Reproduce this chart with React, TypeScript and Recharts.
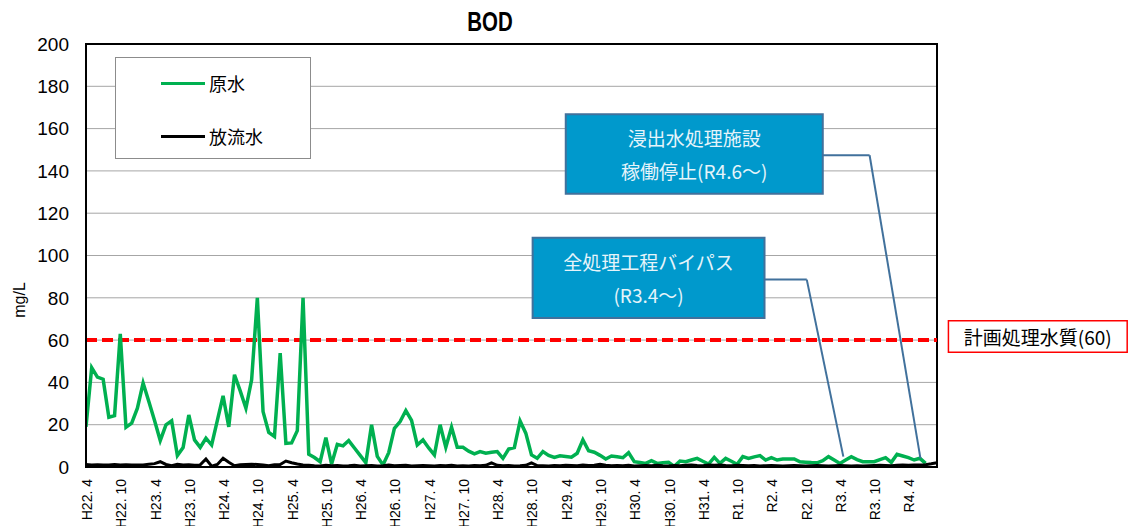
import React from 'react';
import {
  LineChart,
  Line,
  XAxis,
  YAxis,
  CartesianGrid,
  ReferenceLine,
  ReferenceArea,
  Legend,
} from 'recharts';

// ---- data (monthly, H22.4 = index 0 ... R4.9 = index 149) ----
const tickLabels = [
  'H22. 4', 'H22. 10', 'H23. 4', 'H23. 10', 'H24. 4', 'H24. 10', 'H25. 4', 'H25. 10',
  'H26. 4', 'H26. 10', 'H27. 4', 'H27. 10', 'H28. 4', 'H28. 10', 'H29. 4', 'H29. 10',
  'H30. 4', 'H30. 10', 'H31. 4', 'R1. 10', 'R2. 4', 'R2. 10', 'R3. 4', 'R3. 10', 'R4. 4',
];
const tickPositions = [
  0, 6, 12, 18, 24, 30, 36, 42, 48, 54, 60, 66, 72, 78, 84, 90, 96, 102, 108, 114, 120, 126, 132, 138, 144,
];
const monthCount = 150;

// 原水 BOD (mg/L)
const rawWater = [
  19, 47, 42.5, 41.5, 23.5, 24.3, 63, 18.8, 20.7, 27.8,
  39.7, 31, 22, 12.5, 19.9, 21.8, 5.4, 9.2, 24.6, 12.8,
  9.3, 13.6, 10.4, 22, 33.6, 19, 43.6, 36, 27.8, 41.2,
  80, 26.2, 16.3, 14.4, 53.9, 11.2, 11.4, 17.2, 80, 6,
  4.5, 2.5, 13.9, 1.4, 10.7, 10, 12.5, 9, 5.5, 2,
  20, 5, 1, 6.8, 18.3, 21.5, 26.7, 22, 10.4, 12.8,
  9, 5.7, 20, 9.3, 18.8, 9.3, 9.3, 7.5, 6.2, 7.3,
  6.5, 7, 7.3, 4.1, 8.5, 9.2, 21.8, 16, 5.7, 4.1,
  7.3, 5.5, 4.5, 5.3, 5, 4.6, 6.5, 12.8, 7.7, 7,
  5.5, 3.8, 5.2, 4.8, 4.4, 6.8, 2.5, 2.1, 1.7, 3,
  1.7, 2, 2.2, 0.3, 2.8, 2.5, 3.3, 4.1, 2.7, 1.4,
  4.6, 1.7, 4.1, 2.7, 1.3, 4.9, 4.1, 4.8, 5.4, 3.3,
  4.4, 3.3, 3.8, 3.8, 3.8, 2.5, 2.3, 2.1, 2, 3,
  4.9, 3.3, 1.7, 3.3, 4.9, 3.5, 2.5, 2.5, 2.5, 3.5,
  4.4, 2.2, 6, 5.2, 4.4, 3.3, 4.1, 1.7,
];

// 放流水 BOD (mg/L)
const effluent = [
  1.2, 1.0, 1.1, 0.9, 1.0, 1.2, 1.0, 1.1, 0.9, 1.0,
  1.0, 1.3, 1.6, 2.5, 1.2, 0.6, 1.3, 1.0, 1.1, 0.8,
  1.0, 3.8, 0.4, 1.2, 4.1, 2.2, 0.6, 1.1, 1.2, 1.3,
  1.2, 1.0, 0.6, 1.1, 1.2, 2.8, 2.0, 1.4, 1.0, 0.8,
  0.6, 0.5, 0.8, 0.6, 0.7, 0.5, 0.6, 0.8, 0.5, 0.6,
  0.7, 0.5, 0.6, 0.9, 0.6, 0.7, 0.8, 0.5, 0.6, 0.7,
  0.6, 0.5, 0.7, 0.6, 0.8, 0.5, 0.6, 0.5, 0.7, 0.6,
  0.8, 2.0, 0.8, 0.6, 0.7, 0.5, 0.6, 0.8, 1.9, 0.7,
  0.6, 0.5, 0.7, 0.6, 0.8, 0.7, 0.6, 0.9, 0.7, 0.8,
  1.3, 0.8, 0.6, 0.7, 0.6, 0.8, 0.5, 0.6, 0.7, 0.6,
  0.8, 0.6, 0.5, 0.7, 0.6, 0.8, 0.9, 0.7, 0.6, 1.0,
  0.8, 0.9, 0.7, 0.6, 0.8, 0.7, 0.6, 0.7, 0.5, 0.6,
  0.7, 0.6, 0.5, 0.6, 0.7, 0.6, 0.5, 0.6, 0.7, 0.6,
  0.5, 0.6, 0.7, 0.6, 0.5, 0.6, 0.5, 0.6, 0.7, 0.8,
  0.7, 0.6, 0.8, 0.9, 0.8, 1.0, 0.9, 1.1, 1.5, 2.0,
];

const yTicks = [0, 20, 40, 60, 80, 100, 120, 140, 160, 180, 200];
const planQuality = 60;

const seriesNames = { raw: '原水', eff: '放流水' };

const data = Array.from({ length: monthCount }, (_, i) => ({
  m: i,
  raw: i < rawWater.length ? rawWater[i] : null,
  eff: effluent[i],
}));

const CJK = "'Noto Sans CJK JP', 'Noto Sans', sans-serif";
const LATIN = "'Liberation Sans', Arial, sans-serif";

const XTick = (props: any) => {
  const { x, y, payload } = props;
  const idx = tickPositions.indexOf(payload.value);
  const label = idx >= 0 ? tickLabels[idx] : '';
  return (
    <text
      transform={`translate(${x + 1},${y}) rotate(-90)`}
      textAnchor="end"
      dominantBaseline="central"
      fontSize={14}
      fontFamily={LATIN}
      fill="#000"
    >
      {label}
    </text>
  );
};

const boxText = (lines: string[], color: string, size: number, gap: number) => (props: any) => {
  const vb = props && props.viewBox;
  if (!vb || vb.width === undefined) return null;
  const cx = vb.x + vb.width / 2;
  const cy = vb.y + vb.height / 2;
  return (
    <g>
      {lines.map((t, k) => (
        <text
          key={k}
          x={cx}
          y={cy + (k - (lines.length - 1) / 2) * gap}
          textAnchor="middle"
          dominantBaseline="central"
          fill={color}
          fontSize={size}
          fontFamily={CJK}
        >
          {t}
        </text>
      ))}
    </g>
  );
};

const LegendBox = (props: any) => {
  const payload = props.payload || [];
  return (
    <div
      style={{
        width: 196,
        height: 102,
        boxSizing: 'border-box',
        border: '1px solid #8c8c8c',
        background: '#fff',
        position: 'relative',
      }}
    >
      {payload.map((p: any, k: number) => (
        <div
          key={k}
          style={{
            position: 'absolute',
            left: 45,
            top: k === 0 ? 13 : 66,
            height: 24,
            display: 'flex',
            alignItems: 'center',
          }}
        >
          <div style={{ width: 44, height: 3, background: p.color }} />
          <span
            style={{
              marginLeft: 4,
              fontFamily: CJK,
              fontSize: 18,
              color: '#000',
              lineHeight: '24px',
            }}
          >
            {p.value}
          </span>
        </div>
      ))}
    </div>
  );
};

export default function App() {
  return (
    <div style={{ position: 'absolute', left: 0, top: 0, width: 1129, height: 526, background: '#fff' }}>
      <div
        style={{
          position: 'absolute',
          left: 390,
          top: 6,
          width: 200,
          textAlign: 'center',
          fontFamily: LATIN,
          fontWeight: 'bold',
          fontSize: 28,
          lineHeight: '32px',
          color: '#000',
          transform: 'scaleX(0.73)',
          zIndex: 2,
        }}
      >
        BOD
      </div>
      <div
        style={{
          position: 'absolute',
          left: 20,
          top: 300,
          transform: 'translate(-50%, -50%) rotate(-90deg)',
          fontFamily: LATIN,
          fontSize: 16,
          color: '#000',
          whiteSpace: 'nowrap',
          zIndex: 2,
        }}
      >
        mg/L
      </div>
      <LineChart
        width={1129}
        height={526}
        data={data}
        margin={{ top: 44, right: 192, bottom: 0, left: 0 }}
      >
        <CartesianGrid vertical={false} stroke="#a6a6a6" strokeWidth={1} />
        <XAxis
          dataKey="m"
          type="number"
          domain={[0, monthCount - 1]}
          allowDataOverflow
          ticks={tickPositions}
          interval={0}
          height={59}
          tickLine={false}
          tickSize={8}
          tickMargin={4}
          axisLine={{ stroke: '#000', strokeWidth: 2 }}
          tick={<XTick />}
        />
        <YAxis
          type="number"
          domain={[0, 200]}
          allowDataOverflow
          ticks={yTicks}
          interval={0}
          width={86}
          tickLine={false}
          tickSize={6}
          tickMargin={11}
          axisLine={{ stroke: '#000', strokeWidth: 2 }}
          tick={{ fill: '#000', fontSize: 19, fontFamily: LATIN }}
        />
        <ReferenceArea
          x1={0}
          x2={monthCount - 1}
          y1={0}
          y2={200}
          fill="none"
          fillOpacity={0}
          stroke="#000"
          strokeWidth={2}
        />
        <ReferenceLine
          y={planQuality}
          stroke="#ff0000"
          strokeWidth={4}
          strokeDasharray="11 5"
        />
        <Line
          type="linear"
          dataKey="raw"
          name={seriesNames.raw}
          stroke="#00b050"
          strokeWidth={3.5}
          dot={false}
          isAnimationActive={false}
        />
        <Line
          type="linear"
          dataKey="eff"
          name={seriesNames.eff}
          stroke="#000"
          strokeWidth={3}
          dot={false}
          isAnimationActive={false}
        />
        {/* leader lines */}
        <ReferenceLine
          segment={[{ x: 118.8, y: 88.6 }, { x: 126.2, y: 88.6 }]}
          stroke="#41719c"
          strokeWidth={2}
          ifOverflow="visible"
        />
        <ReferenceLine
          segment={[{ x: 126.2, y: 88.6 }, { x: 132.6, y: 4.9 }]}
          stroke="#41719c"
          strokeWidth={2}
          ifOverflow="visible"
        />
        <ReferenceLine
          segment={[{ x: 129.0, y: 147.4 }, { x: 137.2, y: 147.4 }]}
          stroke="#41719c"
          strokeWidth={2}
          ifOverflow="visible"
        />
        <ReferenceLine
          segment={[{ x: 137.2, y: 147.4 }, { x: 146.1, y: 4.1 }]}
          stroke="#41719c"
          strokeWidth={2}
          ifOverflow="visible"
        />
        {/* callout boxes */}
        <ReferenceArea
          x1={84.0}
          x2={129.0}
          y1={129.2}
          y2={166.8}
          fill="#0099cc"
          fillOpacity={1}
          stroke="#41719c"
          strokeWidth={2}
          ifOverflow="visible"
          label={boxText(['浸出水処理施設', '稼働停止(R4.6～)'], '#e6f4fa', 19, 33.4)}
        />
        <ReferenceArea
          x1={78.2}
          x2={118.8}
          y1={70.5}
          y2={108.4}
          fill="#0099cc"
          fillOpacity={1}
          stroke="#41719c"
          strokeWidth={2}
          ifOverflow="visible"
          label={boxText(['全処理工程バイパス', '(R3.4～)'], '#e6f4fa', 19, 32.6)}
        />
        <ReferenceArea
          x1={151.0}
          x2={182.3}
          y1={54.2}
          y2={69.2}
          fill="#fff"
          fillOpacity={1}
          stroke="#ff0000"
          strokeWidth={1.5}
          ifOverflow="visible"
          label={boxText(['計画処理水質(60)'], '#000', 19, 0)}
        />
        <Legend
          layout="vertical"
          align="center"
          verticalAlign="middle"
          wrapperStyle={{ left: 115, top: 57, width: 196, height: 102 }}
          content={<LegendBox />}
        />
      </LineChart>
    </div>
  );
}
